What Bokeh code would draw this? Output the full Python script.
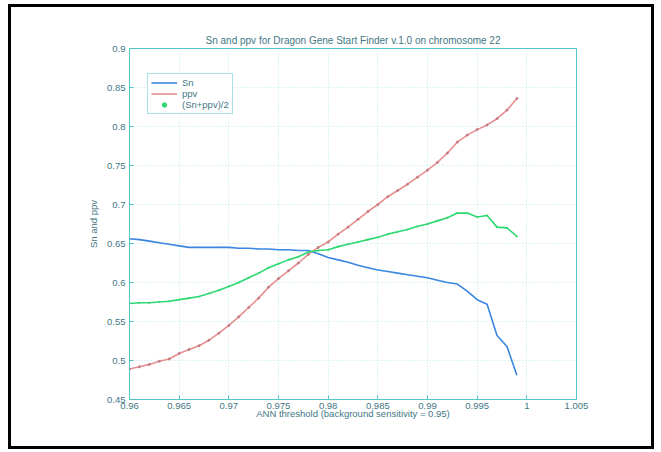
from bokeh.plotting import figure
from bokeh.models import FixedTicker, Legend, LegendItem, Range1d
from bokeh.embed import file_html
from bokeh.resources import INLINE

thresholds = [0.960, 0.961, 0.962, 0.963, 0.964, 0.965, 0.966, 0.967, 0.968, 0.969,
              0.970, 0.971, 0.972, 0.973, 0.974, 0.975, 0.976, 0.977, 0.978, 0.979,
              0.980, 0.981, 0.982, 0.983, 0.984, 0.985, 0.986, 0.987, 0.988, 0.989,
              0.990, 0.991, 0.992, 0.993, 0.994, 0.995, 0.996, 0.997, 0.998, 0.999]

sn = [0.656, 0.655, 0.653, 0.651, 0.649, 0.647, 0.645, 0.645, 0.645, 0.645,
      0.645, 0.644, 0.644, 0.643, 0.643, 0.642, 0.642, 0.641, 0.641, 0.637,
      0.632, 0.629, 0.626, 0.622, 0.619, 0.616, 0.614, 0.612, 0.610, 0.608,
      0.606, 0.603, 0.600, 0.598, 0.589, 0.578, 0.572, 0.532, 0.518, 0.481]

ppv = [0.489, 0.492, 0.495, 0.499, 0.502, 0.509, 0.514, 0.519, 0.526, 0.535,
       0.545, 0.556, 0.568, 0.580, 0.594, 0.605, 0.615, 0.625, 0.636, 0.645,
       0.652, 0.662, 0.671, 0.681, 0.691, 0.700, 0.710, 0.718, 0.726, 0.735,
       0.744, 0.754, 0.766, 0.780, 0.789, 0.796, 0.802, 0.810, 0.821, 0.836]

avg = [0.573, 0.574, 0.574, 0.575, 0.576, 0.578, 0.580, 0.582, 0.586, 0.590,
       0.595, 0.600, 0.606, 0.612, 0.619, 0.624, 0.629, 0.633, 0.639, 0.641,
       0.642, 0.646, 0.649, 0.652, 0.655, 0.658, 0.662, 0.665, 0.668, 0.672,
       0.675, 0.679, 0.683, 0.689, 0.689, 0.684, 0.686, 0.671, 0.670, 0.659]

x_ticks = [0.96, 0.965, 0.97, 0.975, 0.98, 0.985, 0.99, 0.995, 1.0, 1.005]
x_tick_labels = ["0.96", "0.965", "0.97", "0.975", "0.98", "0.985", "0.99", "0.995", "1", "1.005"]
y_ticks = [0.45, 0.5, 0.55, 0.6, 0.65, 0.7, 0.75, 0.8, 0.85, 0.9]
y_tick_labels = ["0.45", "0.5", "0.55", "0.6", "0.65", "0.7", "0.75", "0.8", "0.85", "0.9"]

TXT = "#3f7784"
AX = "#55c4c8"
FONT = "Liberation Sans"
FS = "9.5px"

p = figure(width=646, height=445, output_backend="svg", toolbar_location=None,
           x_range=Range1d(0.96, 1.005), y_range=Range1d(0.45, 0.9),
           min_border_left=118, min_border_right=81, min_border_top=41, min_border_bottom=53,
           title="Sn and ppv for Dragon Gene Start Finder v.1.0 on chromosome 22",
           styles={"border": "3px solid black", "margin-left": "8px", "margin-top": "4px"})

p.title.align = "center"
p.title.text_font = FONT
p.title.text_font_size = "10px"
p.title.text_font_style = "normal"
p.title.text_color = TXT
p.title.standoff = 5

p.outline_line_color = AX
p.outline_line_width = 1

for ax in (p.xaxis[0], p.yaxis[0]):
    ax.axis_line_color = AX
    ax.major_tick_line_color = AX
    ax.minor_tick_line_color = None
    ax.major_tick_in = 4
    ax.major_tick_out = 0
    ax.major_label_text_font = FONT
    ax.major_label_text_font_size = FS
    ax.major_label_text_color = TXT
    ax.axis_label_text_font = FONT
    ax.axis_label_text_font_size = FS
    ax.axis_label_text_font_style = "normal"
    ax.axis_label_text_color = TXT

p.xaxis[0].ticker = FixedTicker(ticks=x_ticks)
p.xaxis[0].major_label_overrides = {t: l for t, l in zip(x_ticks, x_tick_labels)}
p.yaxis[0].ticker = FixedTicker(ticks=y_ticks)
p.yaxis[0].major_label_overrides = {t: l for t, l in zip(y_ticks, y_tick_labels)}
p.xaxis[0].axis_label = "ANN threshold (background sensitivity = 0.95)"
p.yaxis[0].axis_label = "Sn and ppv"
p.xaxis[0].major_label_standoff = 3
p.xaxis[0].axis_label_standoff = -4
p.yaxis[0].major_label_standoff = 4
p.yaxis[0].axis_label_standoff = 5

p.grid.grid_line_color = "#bfeaea"
p.grid.grid_line_dash = "1 2"
p.xgrid.ticker = FixedTicker(ticks=x_ticks)
p.ygrid.ticker = FixedTicker(ticks=y_ticks)

r_sn = p.line(thresholds, sn, line_color="#3a86e0", line_width=1.6)
r_ppv = p.line(thresholds, ppv, line_color="#e88f8f", line_width=1.6)
p.scatter(thresholds, ppv, size=2, color="#c47c86", marker="circle")
r_avg = p.line(thresholds, avg, line_color="#2ed872", line_width=1.6)
r_dot = p.scatter(thresholds, avg, size=1.2, color="#2ed872", marker="circle")

legend = Legend(items=[LegendItem(label="Sn", renderers=[r_sn]),
                       LegendItem(label="ppv", renderers=[r_ppv]),
                       LegendItem(label="(Sn+ppv)/2", renderers=[r_dot])],
                location=(18, 285))
legend.label_text_font = FONT
legend.label_text_font_size = FS
legend.label_text_color = TXT
legend.border_line_color = AX
legend.glyph_height = 11
legend.glyph_width = 26
legend.label_height = 11
legend.spacing = 0
legend.padding = 3
legend.margin = 0
legend.label_standoff = 5
legend.background_fill_alpha = 1
p.add_layout(legend)

open("out.html", "w").write(file_html(p, INLINE))
